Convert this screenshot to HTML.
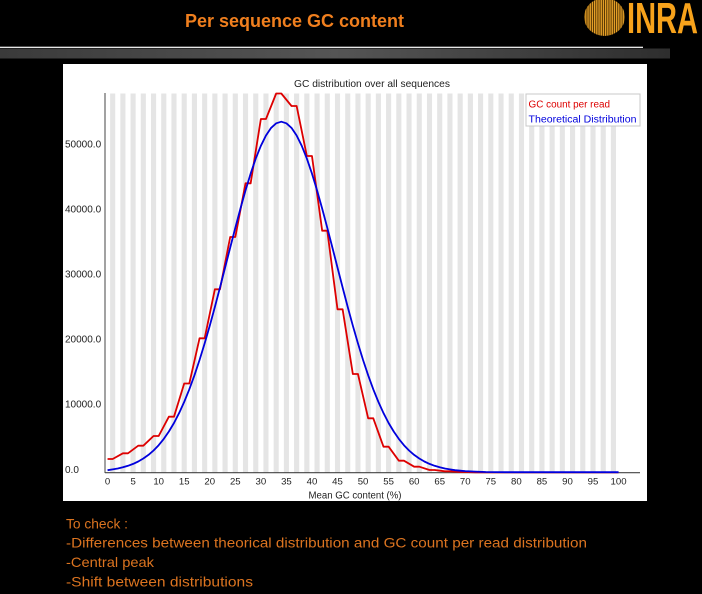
<!DOCTYPE html>
<html>
<head>
<meta charset="utf-8">
<style>
  html, body { margin:0; padding:0; background:#000; }
  body { width:702px; height:594px; overflow:hidden; }
  svg { display:block; }
  text { font-family: "Liberation Sans", "DejaVu Sans", sans-serif; }
</style>
</head>
<body>
<svg width="702" height="594" viewBox="0 0 702 594" xmlns="http://www.w3.org/2000/svg">
  <defs>
    <linearGradient id="bar" x1="0" y1="0" x2="1" y2="0">
      <stop offset="0" stop-color="#3a3a3a"/>
      <stop offset="0.5" stop-color="#555555"/>
      <stop offset="1" stop-color="#2e2e2e"/>
    </linearGradient>
    <pattern id="stripes" x="0" y="0" width="2.2" height="4" patternUnits="userSpaceOnUse">
      <rect x="0" y="0" width="1.3" height="4" fill="#E8A228"/>
      <rect x="1.3" y="0" width="0.9" height="4" fill="#4a2e00"/>
    </pattern>
  </defs>

  <!-- background -->
  <rect x="0" y="0" width="702" height="594" fill="#000"/>

  <!-- header title -->
  <text x="185" y="27" font-size="18" font-weight="bold" fill="#F07F1E" textLength="219" lengthAdjust="spacingAndGlyphs">Per sequence GC content</text>

  <!-- logo -->
  <ellipse cx="604.5" cy="17" rx="20.5" ry="19" fill="url(#stripes)"/>
  <text x="627" y="33" font-size="44" font-weight="bold" fill="#F7A21B" textLength="71" lengthAdjust="spacingAndGlyphs">INRA</text>

  <!-- separator line and gray bar -->
  <rect x="0" y="46.7" width="643" height="1.2" fill="#ffffff"/>
  <rect x="0" y="48.5" width="670" height="10" fill="url(#bar)"/>

  <!-- chart panel -->
  <rect x="63" y="64" width="584" height="437" fill="#ffffff"/>

  <!-- chart title -->
  <text x="294" y="87" font-size="10.5" fill="#222" textLength="156" lengthAdjust="spacingAndGlyphs">GC distribution over all sequences</text>

  <!-- stripes (data units: x = i) -->
  <g transform="translate(107.56,0) scale(5.11,1)" fill="#e5e5e5">
    <rect x="0.5" y="93.5" width="1" height="379"/>
    <rect x="2.5" y="93.5" width="1" height="379"/>
    <rect x="4.5" y="93.5" width="1" height="379"/>
    <rect x="6.5" y="93.5" width="1" height="379"/>
    <rect x="8.5" y="93.5" width="1" height="379"/>
    <rect x="10.5" y="93.5" width="1" height="379"/>
    <rect x="12.5" y="93.5" width="1" height="379"/>
    <rect x="14.5" y="93.5" width="1" height="379"/>
    <rect x="16.5" y="93.5" width="1" height="379"/>
    <rect x="18.5" y="93.5" width="1" height="379"/>
    <rect x="20.5" y="93.5" width="1" height="379"/>
    <rect x="22.5" y="93.5" width="1" height="379"/>
    <rect x="24.5" y="93.5" width="1" height="379"/>
    <rect x="26.5" y="93.5" width="1" height="379"/>
    <rect x="28.5" y="93.5" width="1" height="379"/>
    <rect x="30.5" y="93.5" width="1" height="379"/>
    <rect x="32.5" y="93.5" width="1" height="379"/>
    <rect x="34.5" y="93.5" width="1" height="379"/>
    <rect x="36.5" y="93.5" width="1" height="379"/>
    <rect x="38.5" y="93.5" width="1" height="379"/>
    <rect x="40.5" y="93.5" width="1" height="379"/>
    <rect x="42.5" y="93.5" width="1" height="379"/>
    <rect x="44.5" y="93.5" width="1" height="379"/>
    <rect x="46.5" y="93.5" width="1" height="379"/>
    <rect x="48.5" y="93.5" width="1" height="379"/>
    <rect x="50.5" y="93.5" width="1" height="379"/>
    <rect x="52.5" y="93.5" width="1" height="379"/>
    <rect x="54.5" y="93.5" width="1" height="379"/>
    <rect x="56.5" y="93.5" width="1" height="379"/>
    <rect x="58.5" y="93.5" width="1" height="379"/>
    <rect x="60.5" y="93.5" width="1" height="379"/>
    <rect x="62.5" y="93.5" width="1" height="379"/>
    <rect x="64.5" y="93.5" width="1" height="379"/>
    <rect x="66.5" y="93.5" width="1" height="379"/>
    <rect x="68.5" y="93.5" width="1" height="379"/>
    <rect x="70.5" y="93.5" width="1" height="379"/>
    <rect x="72.5" y="93.5" width="1" height="379"/>
    <rect x="74.5" y="93.5" width="1" height="379"/>
    <rect x="76.5" y="93.5" width="1" height="379"/>
    <rect x="78.5" y="93.5" width="1" height="379"/>
    <rect x="80.5" y="93.5" width="1" height="379"/>
    <rect x="82.5" y="93.5" width="1" height="379"/>
    <rect x="84.5" y="93.5" width="1" height="379"/>
    <rect x="86.5" y="93.5" width="1" height="379"/>
    <rect x="88.5" y="93.5" width="1" height="379"/>
    <rect x="90.5" y="93.5" width="1" height="379"/>
    <rect x="92.5" y="93.5" width="1" height="379"/>
    <rect x="94.5" y="93.5" width="1" height="379"/>
    <rect x="96.5" y="93.5" width="1" height="379"/>
    <rect x="98.5" y="93.5" width="1" height="379"/>
  </g>

  <!-- axes -->
  <line x1="105" y1="93" x2="105" y2="473" stroke="#8a8a8a" stroke-width="1.6"/>
  <line x1="105" y1="472.7" x2="640" y2="472.7" stroke="#444" stroke-width="1.1"/>

  <!-- y labels -->
  <g font-size="10" fill="#222">
    <text x="65" y="472.8">0.0</text>
    <text x="65" y="407.7">10000.0</text>
    <text x="65" y="342.6">20000.0</text>
    <text x="65" y="277.5">30000.0</text>
    <text x="65" y="212.4">40000.0</text>
    <text x="65" y="147.3">50000.0</text>
  </g>

  <!-- x labels -->
  <g font-size="9.6" fill="#222" text-anchor="middle">
    <text x="107.56" y="484.5">0</text>
    <text x="133.11" y="484.5">5</text>
    <text x="158.66" y="484.5">10</text>
    <text x="184.21" y="484.5">15</text>
    <text x="209.76" y="484.5">20</text>
    <text x="235.31" y="484.5">25</text>
    <text x="260.86" y="484.5">30</text>
    <text x="286.41" y="484.5">35</text>
    <text x="311.96" y="484.5">40</text>
    <text x="337.51" y="484.5">45</text>
    <text x="363.06" y="484.5">50</text>
    <text x="388.61" y="484.5">55</text>
    <text x="414.16" y="484.5">60</text>
    <text x="439.71" y="484.5">65</text>
    <text x="465.26" y="484.5">70</text>
    <text x="490.81" y="484.5">75</text>
    <text x="516.36" y="484.5">80</text>
    <text x="541.91" y="484.5">85</text>
    <text x="567.46" y="484.5">90</text>
    <text x="593.01" y="484.5">95</text>
    <text x="618.56" y="484.5">100</text>
  </g>
  <text x="308.5" y="498.5" font-size="10" fill="#222" textLength="93" lengthAdjust="spacingAndGlyphs">Mean GC content (%)</text>

  <!-- series -->
  <g transform="translate(107.56,0) scale(5.11,1)" fill="none" stroke-linejoin="round">
    <path vector-effect="non-scaling-stroke" stroke="#DD0000" stroke-width="1.8"
      d="M0,459 L1,459 L3,453.3 L4,453.3 L6,445.7 L7,445.7 L9,436 L10,436 L12,416.7 L13,416.7 L15,383.5 L16,383.5 L18,338.3 L19,338.3 L21,289.3 L22,289.3 L24,237 L25,237 L27,183.3 L28,183.3 L30,119 L31,119 L33,93.5 L34,93.5 L36,106 L37,106 L39,156 L40,156 L42,230.7 L43,230.7 L45,309.3 L46,309.3 L48,374 L49,374 L51,418.3 L52,418.3 L54,446.7 L55,446.7 L57,460.7 L58,460.7 L60,466.7 L61,466.7 L63,470 L64,470 L66,471.3 L67,471.3 L69,472 L70,472 L72,472.4 L100,472.4"/>
    <path vector-effect="non-scaling-stroke" stroke="#0000DD" stroke-width="1.8"
      d="M0,470.2 L1,469.4 L2,468.5 L3,467.3 L4,465.8 L5,463.9 L6,461.5 L7,458.5 L8,454.9 L9,450.5 L10,445.2 L11,438.9 L12,431.5 L13,423 L14,413.1 L15,401.9 L16,389.3 L17,375.3 L18,360 L19,343.4 L20,325.7 L21,307 L22,287.5 L23,267.6 L24,247.6 L25,227.8 L26,208.6 L27,190.4 L28,173.6 L29,158.6 L30,145.8 L31,135.5 L32,127.9 L33,123.3 L34,121.7 L35,123.3 L36,127.9 L37,135.5 L38,145.8 L39,158.6 L40,173.6 L41,190.4 L42,208.6 L43,227.8 L44,247.6 L45,267.6 L46,287.5 L47,307 L48,325.7 L49,343.4 L50,360 L51,375.3 L52,389.3 L53,401.9 L54,413.1 L55,423 L56,431.5 L57,438.9 L58,445.2 L59,450.5 L60,454.9 L61,458.5 L62,461.5 L63,463.9 L64,465.8 L65,467.3 L66,468.5 L67,469.4 L68,470.2 L69,470.7 L70,471.1 L72,471.6 L74,472 L78,472.2 L100,472.2"/>
  </g>

  <!-- legend -->
  <rect x="526" y="94" width="114" height="32" fill="#ffffff" stroke="#c8c8c8" stroke-width="1"/>
  <text x="528.5" y="107.5" font-size="10" fill="#DD0000" textLength="81.5" lengthAdjust="spacingAndGlyphs">GC count per read</text>
  <text x="528.5" y="122.5" font-size="10" fill="#0000DD" textLength="108" lengthAdjust="spacingAndGlyphs">Theoretical Distribution</text>

  <!-- bottom notes -->
  <g font-size="14" fill="#DC7420">
    <text x="66" y="528.3" textLength="62" lengthAdjust="spacingAndGlyphs">To check :</text>
    <text x="66" y="547.5" textLength="521" lengthAdjust="spacingAndGlyphs">-Differences between theorical distribution and GC count per read distribution</text>
    <text x="66" y="567" textLength="88" lengthAdjust="spacingAndGlyphs">-Central peak</text>
    <text x="66" y="586.5" textLength="187" lengthAdjust="spacingAndGlyphs">-Shift between distributions</text>
  </g>
</svg>
</body>
</html>
